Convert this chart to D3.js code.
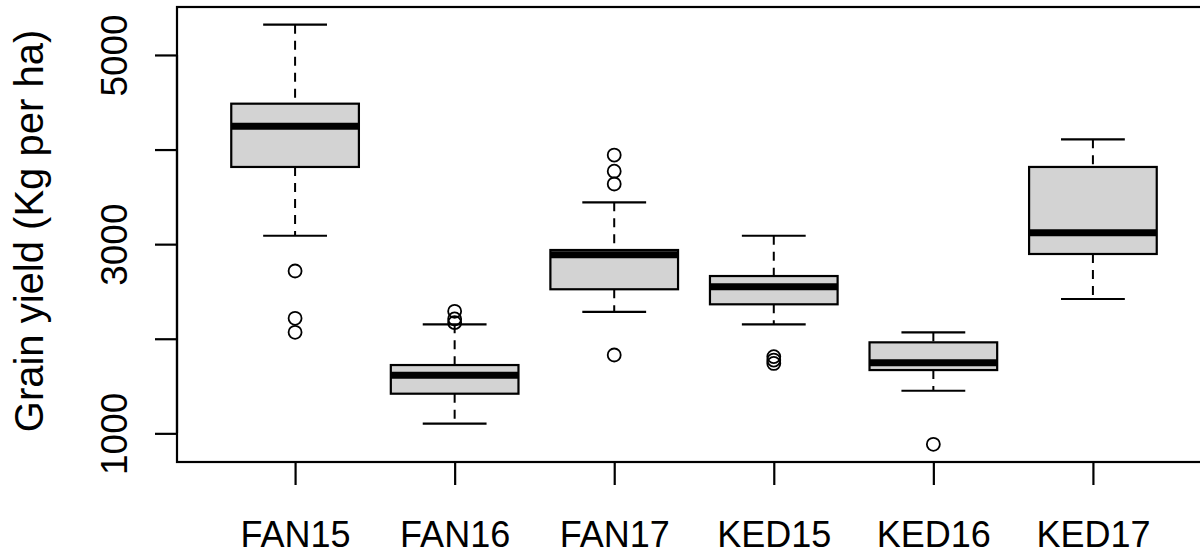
<!DOCTYPE html>
<html>
<head>
<meta charset="utf-8">
<script src="https://cdn.jsdelivr.net/npm/d3@7"></script>
<style>
  html, body { margin: 0; padding: 0; background: #ffffff; }
  svg { display: block; }
  text { font-family: "Liberation Sans", Arial, sans-serif; fill: #000; }
</style>
</head>
<body>
<svg id="chart" width="1200" height="554"></svg>
<script>
// ---- data ----
const categories = ["FAN15", "FAN16", "FAN17", "KED15", "KED16", "KED17"];
const whiskerLow  = [3089, 1102, 2283, 2152, 1450, 2420];
const quartile1   = [3816, 1419, 2523, 2364, 1669, 2896];
const medians     = [4246, 1613, 2888, 2550, 1746, 3121];
const quartile3   = [4485, 1722, 2938, 2663, 1962, 3816];
const whiskerHigh = [5320, 2152, 3442, 3089, 2068, 4108];
const outliers = [
  [2716, 2216, 2068],
  [2290, 2210, 2170],
  [3942, 3771, 3636, 1828],
  [1811, 1775, 1739],
  [884],
  []
];
const yTickValues = [1000, 2000, 3000, 4000, 5000];
const yTickLabels = ["1000", "", "3000", "", "5000"];
const yAxisTitle = "Grain yield (Kg per ha)";

// ---- layout ----
const svg = d3.select("#chart");
const plot = { left: 177, top: 7, bottom: 462, right: 1211 };

const x = d3.scaleLinear().domain([0.26, categories.length + 0.74]).range([plot.left, plot.right]);
const y = d3.scaleLinear().domain([697, 5507]).range([plot.bottom, plot.top]);

const boxHalf = 0.4, capHalf = 0.2;

const g = svg.append("g");

categories.forEach((cat, i) => {
  const c = i + 1;
  const bx = g.append("g");
  // whiskers (dashed)
  bx.append("line")
    .attr("x1", x(c)).attr("x2", x(c))
    .attr("y1", y(whiskerHigh[i])).attr("y2", y(quartile3[i]))
    .attr("stroke", "#000").attr("stroke-width", 2).attr("stroke-dasharray", "9,7");
  bx.append("line")
    .attr("x1", x(c)).attr("x2", x(c))
    .attr("y1", y(quartile1[i])).attr("y2", y(whiskerLow[i]))
    .attr("stroke", "#000").attr("stroke-width", 2).attr("stroke-dasharray", "9,7");
  // caps
  [whiskerHigh[i], whiskerLow[i]].forEach(v => {
    bx.append("line")
      .attr("x1", x(c - capHalf)).attr("x2", x(c + capHalf))
      .attr("y1", y(v)).attr("y2", y(v))
      .attr("stroke", "#000").attr("stroke-width", 2.2);
  });
  // box
  bx.append("rect")
    .attr("x", x(c - boxHalf)).attr("width", x(c + boxHalf) - x(c - boxHalf))
    .attr("y", y(quartile3[i])).attr("height", y(quartile1[i]) - y(quartile3[i]))
    .attr("fill", "#d3d3d3").attr("stroke", "#000").attr("stroke-width", 2.2);
  // median
  bx.append("line")
    .attr("x1", x(c - boxHalf)).attr("x2", x(c + boxHalf))
    .attr("y1", y(medians[i])).attr("y2", y(medians[i]))
    .attr("stroke", "#000").attr("stroke-width", 7);
  // outliers
  outliers[i].forEach(v => {
    bx.append("circle")
      .attr("cx", x(c)).attr("cy", y(v)).attr("r", 6.5)
      .attr("fill", "none").attr("stroke", "#000").attr("stroke-width", 1.8);
  });
});

// ---- frame ----
svg.append("rect")
  .attr("x", plot.left).attr("y", plot.top)
  .attr("width", plot.right - plot.left).attr("height", plot.bottom - plot.top)
  .attr("fill", "none").attr("stroke", "#000").attr("stroke-width", 2.2);

// ---- y axis ----
const yAxis = d3.axisLeft(y).tickValues(yTickValues).tickSize(22).tickSizeOuter(0)
  .tickFormat((d, i) => yTickLabels[i]);
const yg = svg.append("g").attr("transform", `translate(${plot.left},0)`).call(yAxis);
yg.select(".domain").attr("stroke", "#000").attr("stroke-width", 2.2)
  .attr("d", `M0,${y(yTickValues[0])}V${y(yTickValues[yTickValues.length - 1])}`);
yg.selectAll(".tick line").attr("stroke", "#000").attr("stroke-width", 2.2);
yg.selectAll(".tick text")
  .attr("x", 0).attr("dy", null).attr("y", 0)
  .attr("text-anchor", "middle")
  .attr("transform", "translate(-50,0) rotate(-90)")
  .style("font-size", "37px")
  .style("font-family", "'Liberation Sans', Arial, sans-serif")
  .attr("fill", "#000");

// ---- x axis ----
const xAxis = d3.axisBottom(x).tickValues(d3.range(1, categories.length + 1))
  .tickSize(23).tickSizeOuter(0).tickFormat(d => categories[d - 1]);
const xg = svg.append("g").attr("transform", `translate(0,${plot.bottom})`).call(xAxis);
xg.select(".domain").remove();
xg.selectAll(".tick line").attr("stroke", "#000").attr("stroke-width", 2.2);
xg.selectAll(".tick text")
  .attr("y", 85).attr("dy", null)
  .style("font-size", "36px")
  .style("font-family", "'Liberation Sans', Arial, sans-serif")
  .attr("fill", "#000");

// ---- y title ----
svg.append("text")
  .attr("transform", `translate(42.5,231) rotate(-90)`)
  .attr("text-anchor", "middle")
  .style("font-size", "40px")
  .text(yAxisTitle);
</script>
</body>
</html>
